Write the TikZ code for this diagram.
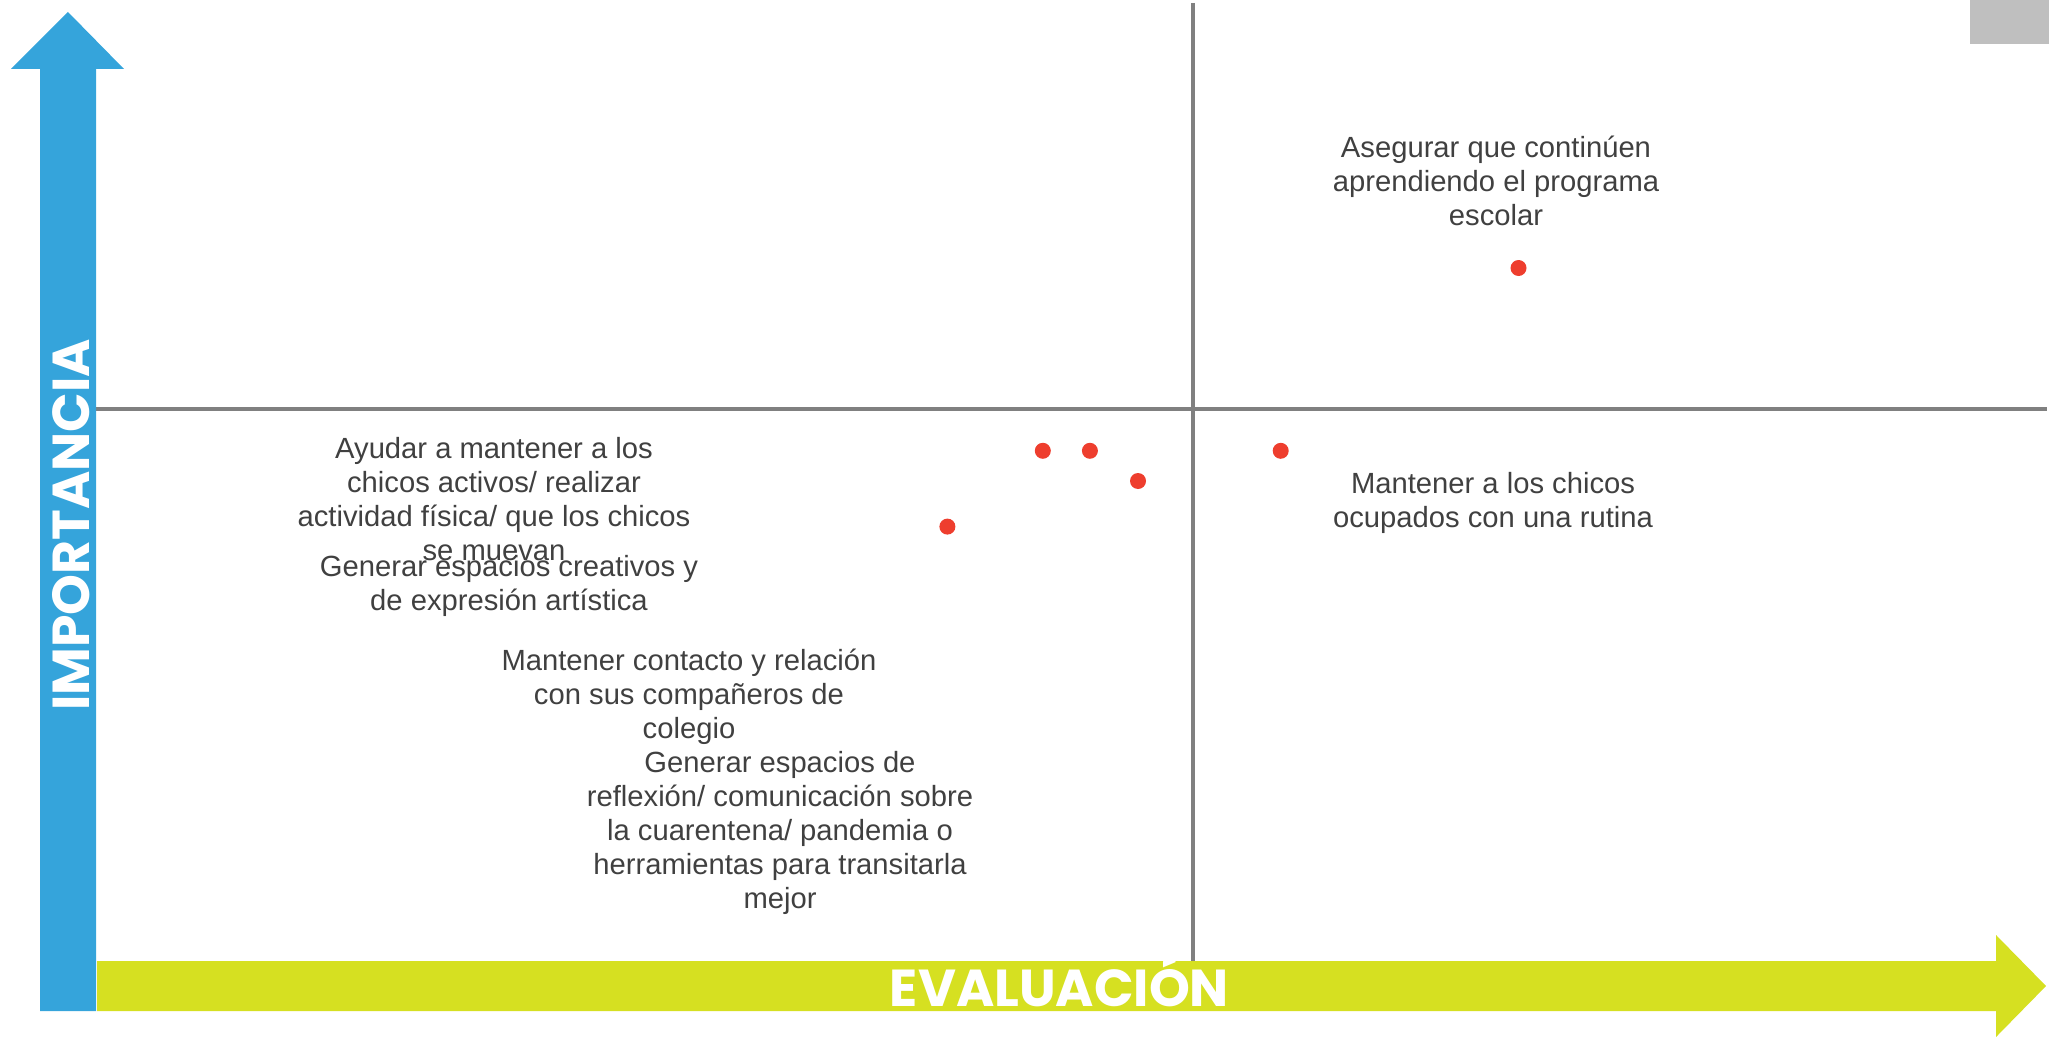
\documentclass[tikz,border=0pt]{standalone}
\usepackage{fontspec}
\setmainfont{Liberation Sans}
\newfontfamily\axisfont{Poppins}
\definecolor{axisblue}{HTML}{35A4DB}
\definecolor{axisgreen}{HTML}{D6E021}
\definecolor{dotred}{HTML}{EE3E2E}
\definecolor{txtgray}{HTML}{404040}
\definecolor{linegray}{HTML}{808080}
\definecolor{boxgray}{HTML}{BFBFBF}
\begin{document}
\begin{tikzpicture}[x=0.5pt,y=-0.5pt,
  lbl/.style={align=center,inner sep=0pt,text=txtgray,font=\fontsize{14.6pt}{17pt}\selectfont},
  dot/.style={circle,fill=dotred,inner sep=0pt,minimum size=8pt},
  axislbl/.style={inner sep=0pt,text=white,font=\axisfont\bfseries\fontsize{26pt}{30pt}\selectfont},
  quad/.style={draw=linegray,line width=2pt}]
\useasboundingbox (0,0) rectangle (2049,1038);
% gray box
\fill[boxgray] (1970,0) rectangle (2049,44);
% quadrant lines
\coordinate (hl) at (96,408.7);
\coordinate (hr) at (2047,408.7);
\coordinate (vt) at (1193.3,3);
\coordinate (vb) at (1193.3,961);
\draw[quad] (hl) -- (hr);
\draw[quad] (vt) -- (vb);
% axes arrows
\fill[axisblue] (40,1011) -- (40,69) -- (11,69) -- (68,12) -- (124,69) -- (96,69) -- (96,1011) -- cycle;
\fill[axisgreen] (97,961) -- (1996,961) -- (1996,935) -- (2046,986) -- (1996,1037) -- (1996,1011) -- (97,1011) -- cycle;
\node[axislbl,anchor=base] (eval) at (1059.5,1006) {EVALUACIÓN};
\node[axislbl,anchor=base,rotate=90] (imp) at (89,525) {IMPORTANCIA};
% labels
\node[lbl] (t1) at (1496,181) {Asegurar que continúen\\aprendiendo el programa\\escolar};
\node[lbl] (t2) at (1493,503) {Mantener a los chicos\\ocupados con una rutina};
\node[lbl] (t3) at (494,499) {Ayudar a mantener a los\\chicos activos/ realizar\\actividad física/ que los chicos\\se muevan};
\node[lbl] (t4) at (509,585.5) {Generar espacios creativos y\\de expresión artística};
\node[lbl] (t5) at (689,696.5) {Mantener contacto y relación\\con sus compañeros de\\colegio};
\node[lbl] (t6) at (780,832.5) {Generar espacios de\\reflexión/ comunicación sobre\\la cuarentena/ pandemia o\\herramientas para transitarla\\mejor};
% dots
\node[dot] (d1) at (1518.5,268) {};
\node[dot] (d2) at (1042.8,450.8) {};
\node[dot] (d3) at (1089.9,450.8) {};
\node[dot] (d4) at (1138,481) {};
\node[dot] (d5) at (1280.7,450.8) {};
\node[dot] (d6) at (947.4,526.6) {};
\end{tikzpicture}
\end{document}
